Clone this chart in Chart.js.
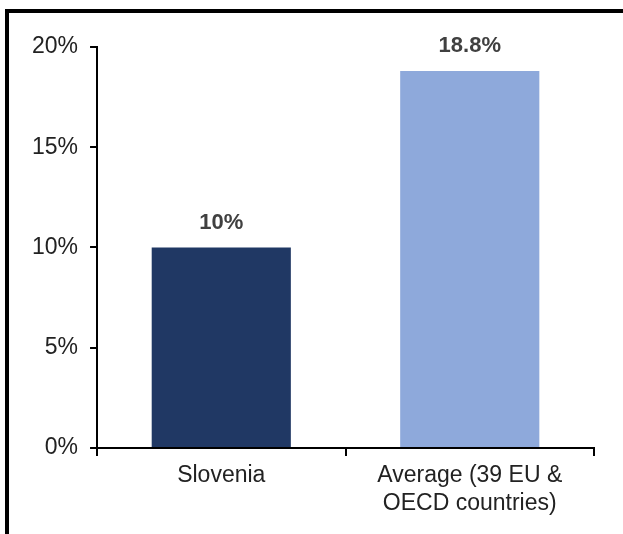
<!DOCTYPE html>
<html>
<head>
<meta charset="utf-8">
<script src="https://cdn.jsdelivr.net/npm/chart.js@4/dist/chart.umd.min.js"></script>
<style>
html,body{margin:0;padding:0;background:#fff;}
#wrap{position:relative;width:623px;height:534px;overflow:hidden;}
#frame{position:absolute;left:5px;top:9px;width:700px;height:600px;border-top:4px solid #000;border-left:4px solid #000;box-sizing:border-box;}
canvas{position:absolute;left:0;top:0;}
</style>
</head>
<body>
<div id="wrap">
<div id="frame"></div>
<canvas id="c" width="623" height="534"></canvas>
</div>
<script>
const categories = [["Slovenia"], ["Average (39 EU &", "OECD countries)"]];
const values = [10, 18.8];
const valueLabels = ["10%", "18.8%"];
const barColors = ["#203864", "#8EA9DB"];
const yTicks = [0, 5, 10, 15, 20];

const labelPlugin = {
  id: 'valLabels',
  afterDatasetsDraw(chart) {
    const ctx = chart.ctx;
    const meta = chart.getDatasetMeta(0);
    ctx.save();
    ctx.font = 'bold 22px "Liberation Sans", Arial, sans-serif';
    ctx.fillStyle = '#404040';
    ctx.textAlign = 'center';
    ctx.textBaseline = 'middle';
    meta.data.forEach((bar, i) => {
      ctx.fillText(valueLabels[i], bar.x, bar.y - 25);
    });
    ctx.restore();
  }
};

new Chart(document.getElementById('c'), {
  type: 'bar',
  data: {
    labels: categories,
    datasets: [{
      data: values,
      backgroundColor: barColors,
      borderWidth: 0,
      barPercentage: 0.56,
      categoryPercentage: 1.0
    }]
  },
  options: {
    responsive: false,
    animation: false,
    devicePixelRatio: 1,
    layout: { padding: { left: 20, right: 29, top: 47, bottom: 10 } },
    plugins: { legend: { display: false }, tooltip: { enabled: false } },
    scales: {
      x: {
        offset: true,
        grid: { offset: true, drawOnChartArea: false, drawTicks: true, tickLength: 8, color: '#000', lineWidth: 2 },
        border: { color: '#000', width: 2 },
        ticks: { color: '#222', font: { family: '"Liberation Sans", Arial, sans-serif', size: 23, lineHeight: 1.22 }, padding: 6, maxRotation: 0 }
      },
      y: {
        min: 0, max: 20,
        afterBuildTicks(axis) { axis.ticks = yTicks.map(v => ({ value: v })); },
        grid: { drawOnChartArea: false, drawTicks: true, tickLength: 7, color: '#000', lineWidth: 2 },
        border: { color: '#000', width: 2 },
        ticks: { color: '#222', font: { family: '"Liberation Sans", Arial, sans-serif', size: 23 }, padding: 12, callback: v => v + '%' }
      }
    }
  },
  plugins: [labelPlugin]
});
</script>
</body>
</html>
